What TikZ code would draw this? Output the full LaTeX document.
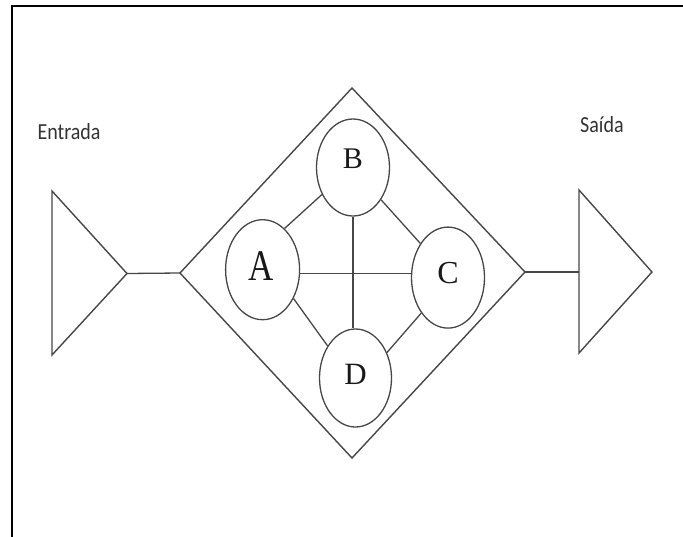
\documentclass[tikz,border=0pt]{standalone}
\usepackage{fontspec}
\setmainfont{Liberation Serif}
\newfontfamily\calib{Carlito}
\newfontfamily\serf{Liberation Serif}
\usetikzlibrary{shapes.geometric}
\tikzset{
  ln/.style={draw=black!72, line width=1.4pt, line join=miter},
  conn/.style={draw=black!72, line width=1.3pt},
  circ/.style={ellipse, draw=black!72, line width=1.3pt, inner sep=0pt, minimum width=73pt, minimum height=98pt},
  lbl/.style={font=\calib\fontsize{20}{20}\selectfont, text=black!80, inner sep=0pt, anchor=base west},
  let/.style={inner sep=0pt, text=black!90},
}
\begin{document}
\begin{tikzpicture}[x=1pt,y=-1pt]
\useasboundingbox (0,0) rectangle (683,536);
\begin{scope}
\clip (0,0) rectangle (683,536);
\draw[line width=2pt, black] (12,5.5) rectangle (720,580);
\end{scope}
% input triangle
\coordinate (lt1) at (52,191);
\coordinate (lt2) at (52,355);
\coordinate (ltap) at (127,273.5);
\draw[ln] (lt1) -- (lt2) -- (ltap) -- cycle;
% diamond
\coordinate (dtop) at (352,88);
\coordinate (dright) at (525,272);
\coordinate (dbot) at (352,458);
\coordinate (dleft) at (180,273);
\draw[ln] (dtop) -- (dright) -- (dbot) -- (dleft) -- cycle;
% output triangle
\coordinate (rt1) at (579,190);
\coordinate (rt2) at (579,353);
\coordinate (rtap) at (652,272);
\coordinate (rtmid) at (579,272);
\draw[ln] (rt1) -- (rtap) -- (rt2) -- cycle;
\draw[conn] (ltap) -- (dleft);
\draw[conn] (dright) -- (rtmid);
% labels
\node[lbl] (entrada) at (37.3,139) {\scalebox{1}[1.15]{Entrada}};
\node[lbl] (saida) at (580,132.7) {\scalebox{1}[1.15]{Saída}};
% ellipses
\node[circ, minimum width=74pt, minimum height=100pt,
  label={[let, font=\serf\fontsize{35}{35}\selectfont, xshift=-1.6pt, yshift=3.7pt]center:\scalebox{1}[1.25]{A}}] (A) at (262.6,269.7) {};
\node[circ, minimum width=73pt, minimum height=97pt,
  label={[let, font=\serf\fontsize{30}{30}\selectfont, yshift=8.5pt]center:B}] (B) at (353,167.5) {};
\node[circ, minimum width=73pt, minimum height=101pt,
  label={[let, font=\serf\fontsize{32}{32}\selectfont, yshift=5pt]center:C}] (C) at (448,277.6) {};
\node[circ, minimum width=72pt, minimum height=98pt,
  label={[let, font=\serf\fontsize{31}{31}\selectfont, yshift=4pt]center:D}] (D) at (355.5,378) {};
% connectors
\draw[conn] (A.62) -- (B.221);
\draw[conn] (B.311) -- (C.129);
\draw[conn] (A.317) -- (D.131);
\draw[conn] (C.233) -- (D.39);
\draw[conn] (A.-6) -- (A.-6 -| C.west);
\draw[conn] (B.south) -- (B.south |- D.north);
\end{tikzpicture}
\end{document}
